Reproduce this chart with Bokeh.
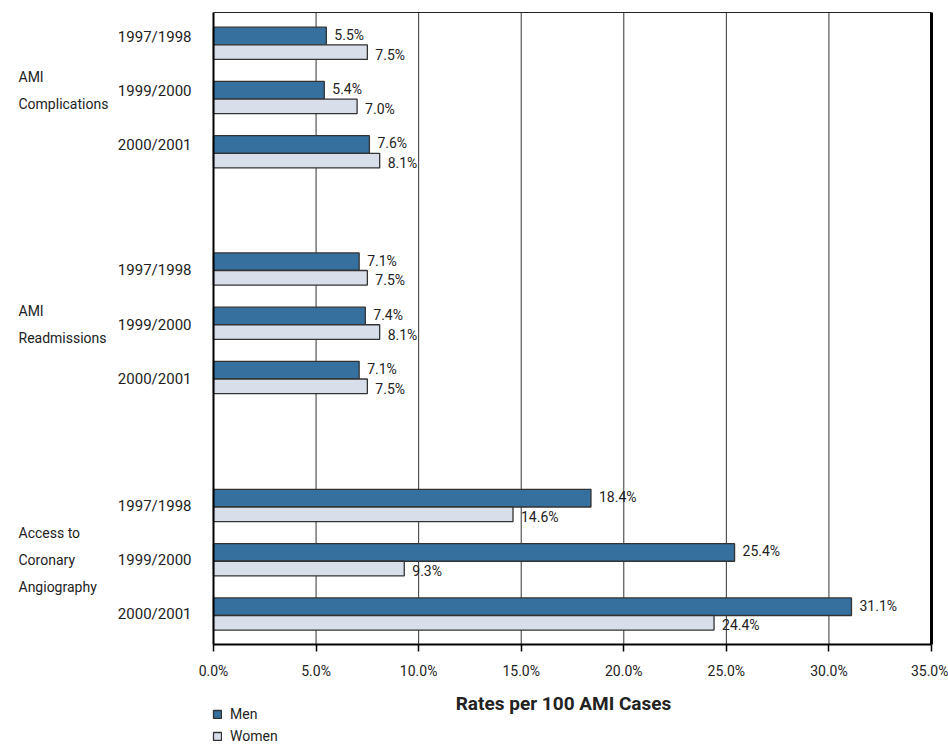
from bokeh.plotting import figure
from bokeh.models import (ColumnDataSource, Range1d, FixedTicker, LinearAxis,
                          PrintfTickFormatter, LabelSet, Label, Legend, LegendItem)
from bokeh.core.properties import value
from bokeh.embed import file_html
from bokeh.resources import INLINE

# ---- data -----------------------------------------------------------------
measure_lines = [["AMI", "Complications"],
                 ["AMI", "Readmissions"],
                 ["Access to", "Coronary", "Angiography"]]
periods = ["1997/1998", "1999/2000", "2000/2001"]
men = [5.5, 5.4, 7.6,
       7.1, 7.4, 7.1,
       18.4, 25.4, 31.1]
women = [7.5, 7.0, 8.1,
         7.5, 8.1, 7.5,
         14.6, 9.3, 24.4]
x_ticks = [0, 5, 10, 15, 20, 25, 30, 35]

# ---- page geometry (y data units are pixels from the top of the page) ----
W, H = 948, 745
FONT = "Roboto"
MEN_COLOR = "#35709f"
WOMEN_COLOR = "#d9dfea"
EDGE = "#333333"
INK = "#222222"

X_MAX = 35
LEFT_PX, RIGHT_PX = 213, 931          # where 0 % and 35 % sit
TOP, BOTTOM = 12, 643.5               # plot box, top and bottom
px_per_unit = (RIGHT_PX - LEFT_PX) / X_MAX

first_top = TOP + 14.7
step = 54.25
group_gaps = [0.0, 1.16, 1.36]
men_h, women_h = 17.6, 14.6
label_shift = [9.5, 17.5, 16.5]

men_y, women_y, men_lab_y, women_lab_y, tick_y = [], [], [], [], []
grp_x, grp_y, grp_txt = [], [], []
line_gap = 27
gap_acc = 0.0
for g, lines in enumerate(measure_lines):
    gap_acc += group_gaps[g]
    for i, per in enumerate(periods):
        top = first_top + (3 * g + i + gap_acc) * step
        men_y.append(top + men_h / 2)
        women_y.append(top + men_h + women_h / 2)
        men_lab_y.append(top + 7.7)
        women_lab_y.append(top + 27.5)
        ty = round(top + label_shift[g], 2)
        tick_y.append(ty)
        if i == 1:
            n = len(lines)
            for k, txt in enumerate(lines):
                grp_x.append(0)
                grp_y.append(ty - ((n - 1) / 2 - k) * line_gap)
                grp_txt.append(txt)

tick_txt = periods * len(measure_lines)

men_src = ColumnDataSource(dict(y=men_y, v=men, ly=men_lab_y,
                                t=[f"{v:.1f}%" for v in men]))
women_src = ColumnDataSource(dict(y=women_y, v=women, ly=women_lab_y,
                                  t=[f"{v:.1f}%" for v in women]))
grp_src = ColumnDataSource(dict(x=grp_x, y=grp_y, t=grp_txt))

p = figure(width=W, height=H, output_backend="svg", toolbar_location=None,
           title=None,
           x_range=Range1d(-LEFT_PX / px_per_unit, (W - LEFT_PX) / px_per_unit),
           y_range=Range1d(H, 0),
           min_border=0)
p.background_fill_color = "white"
p.border_fill_color = "white"
p.outline_line_color = None
p.xgrid.visible = False
p.ygrid.visible = False

# vertical grid lines inside the plot box
grid_ticks = x_ticks[1:-1]
p.segment(x0=grid_ticks, x1=grid_ticks, y0=TOP, y1=BOTTOM,
          line_color="#333333", line_width=1)

# bars
men_r = p.hbar(y="y", left=0, right="v", height=men_h, source=men_src,
               fill_color=MEN_COLOR, line_color=EDGE, line_width=1.3)
women_r = p.hbar(y="y", left=0, right="v", height=women_h, source=women_src,
                 fill_color=WOMEN_COLOR, line_color=EDGE, line_width=1.3)

# value labels
for src in (men_src, women_src):
    p.add_layout(LabelSet(x="v", y="ly", text="t", source=src, x_offset=8,
                          text_align="left", text_baseline="middle",
                          text_font=value(FONT), text_font_size="14px",
                          text_color=INK))

# x axis along the bottom of the plot box
xa = p.xaxis[0]
xa.fixed_location = BOTTOM
xa.bounds = (0, X_MAX)
xa.ticker = FixedTicker(ticks=x_ticks)
xa.formatter = PrintfTickFormatter(format="%.1f%%")
xa.axis_line_color = "black"
xa.axis_line_width = 2
xa.major_tick_line_color = "black"
xa.major_tick_line_width = 1.5
xa.major_tick_out = 7
xa.major_tick_in = 0
xa.minor_tick_out = 0
xa.minor_tick_in = 0
xa.major_label_standoff = 12
xa.major_label_text_font = FONT
xa.major_label_text_font_size = "14px"
xa.major_label_text_color = INK

# y axis at 0 % carrying the period labels
ya = p.yaxis[0]
ya.fixed_location = 0
ya.bounds = (TOP, BOTTOM)
ya.ticker = FixedTicker(ticks=tick_y)
ya.major_label_overrides = {t: s for t, s in zip(tick_y, tick_txt)}
ya.axis_line_color = "black"
ya.axis_line_width = 2
ya.major_tick_out = 0
ya.major_tick_in = 0
ya.minor_tick_out = 0
ya.minor_tick_in = 0
ya.major_label_standoff = 22
ya.major_label_text_font = FONT
ya.major_label_text_font_size = "15px"
ya.major_label_text_color = INK

# thin top edge and heavy right edge of the plot box
top_edge = LinearAxis(fixed_location=TOP, bounds=(0, X_MAX),
                      ticker=FixedTicker(ticks=[]), axis_line_color="#222222",
                      axis_line_width=1, major_tick_out=0, major_tick_in=0,
                      minor_tick_out=0, minor_tick_in=0,
                      major_label_text_font_size="0px")
p.add_layout(top_edge, "above")
right_edge = LinearAxis(fixed_location=X_MAX, bounds=(TOP, BOTTOM),
                        ticker=FixedTicker(ticks=[]), axis_line_color="black",
                        axis_line_width=3, major_tick_out=0, major_tick_in=0,
                        minor_tick_out=0, minor_tick_in=0,
                        major_label_text_font_size="0px")
p.add_layout(right_edge, "right")

# measure names left of the period labels
p.text(x="x", y="y", text="t", source=grp_src, x_offset=-195,
       text_align="left", text_baseline="middle",
       text_font=value(FONT), text_font_size="14px", text_color=INK)

# axis title
p.add_layout(Label(x=563, x_units="screen", y=H - 703, y_units="screen",
                   text="Rates per 100 AMI Cases", text_align="center",
                   text_baseline="middle", text_font=FONT,
                   text_font_size="19px", text_font_style="bold",
                   text_color=INK))

# legend under the axis
legend = Legend(items=[LegendItem(label="Men", renderers=[men_r]),
                       LegendItem(label="Women", renderers=[women_r])],
                location=(212, 0), orientation="vertical",
                glyph_width=10, glyph_height=10, label_standoff=8,
                label_height=18, spacing=4, padding=0, margin=0,
                border_line_alpha=0, background_fill_alpha=0,
                label_text_font=FONT, label_text_font_size="14px",
                label_text_color=INK)
p.add_layout(legend)

open("out.html", "w").write(file_html(p, INLINE))
